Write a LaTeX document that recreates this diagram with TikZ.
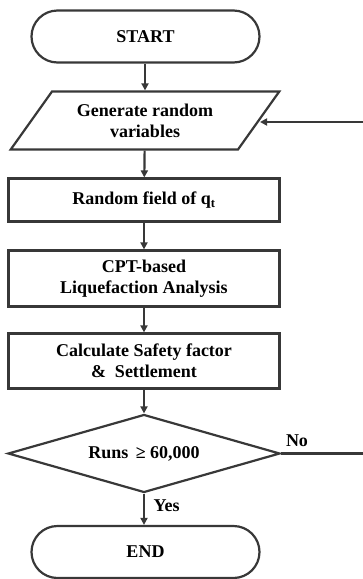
\documentclass[tikz,border=0pt]{standalone}
\usepackage{fontspec}
\setmainfont{Liberation Serif}
\usetikzlibrary{shapes.geometric,arrows.meta}
\begin{document}
\begin{tikzpicture}[x=1pt,y=-1pt,
  every node/.style={font=\fontsize{18}{21}\selectfont\bfseries, align=center, line width=2.2pt, draw=black!78, inner sep=0pt},
  term/.style={rounded corners=26pt, minimum width=228pt, minimum height=52pt},
  proc/.style={rectangle, minimum width=271pt},
  para/.style={trapezium, trapezium left angle=48, trapezium right angle=132, trapezium stretches=true, minimum width=269pt, minimum height=58pt},
  dec/.style={diamond, aspect=3.4, minimum width=272pt, minimum height=78pt},
  lbl/.style={draw=none},
  arr/.style={draw=black!78, line width=2.2pt, -{Triangle[length=7pt,width=7pt]}},
  ln/.style={draw=black!78, line width=2.2pt}]
\useasboundingbox (0,0) rectangle (363,579);
\node[term] (start) at (145.5,36.5) {START};
\node[para] (gen) at (145,120.5) {Generate random\\variables};
\node[proc, minimum height=43pt] (rf) at (144,200) {Random field of q\textsubscript{t}};
\node[proc, minimum height=56pt] (cpt) at (144,278.5) {CPT-based\\Liquefaction Analysis};
\node[proc, minimum height=55pt] (calc) at (144,361) {Calculate Safety factor\\\&\ \ Settlement};
\node[dec] (dec) at (144,453.5) {Runs \,≥ 60,000};
\node[term] (end) at (145.5,552) {END};
\node[lbl] (no) at (297,441) {No};
\node[lbl] (yes) at (166.5,506) {Yes};
\coordinate (noend) at (363,453.5);
\coordinate (back) at (363,122);
\draw[arr] (start.south -| gen.north) -- (gen.north);
\draw[arr] (gen) -- (rf);
\draw[arr] (rf) -- (cpt);
\draw[arr] (cpt) -- (calc);
\draw[arr] (calc) -- (dec);
\draw[arr] (dec) -- (dec.south |- end.north);
\draw[ln] (dec.east) -- (noend);
\draw[arr] (back) -- (gen.east |- back);
\end{tikzpicture}
\end{document}
